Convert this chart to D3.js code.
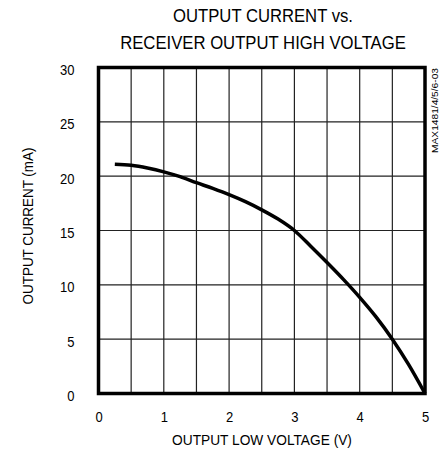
<!DOCTYPE html>
<html>
<head>
<meta charset="utf-8">
<script src="https://cdn.jsdelivr.net/npm/d3@7"></script>
<style>
  body { margin: 0; background: #fff; }
  text { font-family: "Liberation Sans", Arial, sans-serif; fill: #000; }
</style>
</head>
<body>
<div id="chart"></div>
<script>
// Our canvas
const width = 441,
  height = 455,
  plotLeft = 98.5,
  plotRight = 425,
  plotTop = 67.5,
  plotBottom = 393.5,
  narrow = 0.84

// Curve values
const voltage = [0.25, 0.5, 0.75, 1.0, 1.25, 1.5, 1.75, 2.0, 2.25, 2.5, 2.75, 3.0, 3.25, 3.5, 3.75, 4.0, 4.25, 4.5, 4.75, 5.0]
const current = [21.1, 21.0, 20.75, 20.4, 19.95, 19.4, 18.87, 18.3, 17.65, 16.9, 16.05, 15.0, 13.55, 12.05, 10.5, 8.85, 7.05, 5.0, 2.65, 0.0]

// Ticks and grid
const xTicks = [0, 1, 2, 3, 4, 5]
const yTicks = [0, 5, 10, 15, 20, 25, 30]
const xGrid = [0.5, 1, 1.5, 2, 2.5, 3, 3.5, 4, 4.5]
const yGrid = [5, 10, 15, 20, 25]

const titleLines = ['OUTPUT CURRENT vs.', 'RECEIVER OUTPUT HIGH VOLTAGE']
const xTitle = 'OUTPUT LOW VOLTAGE (V)'
const yTitle = 'OUTPUT CURRENT (mA)'
const partNo = 'MAX1481/4/5/6-03'

let svg = d3.select('#chart')
  .append('svg')
  .attr('width', width)
  .attr('height', height)

const xScale = d3.scaleLinear()
  .domain([0, 5])
  .range([plotLeft, plotRight])

const yScale = d3.scaleLinear()
  .domain([0, 30])
  .range([plotBottom, plotTop])

// grid lines
svg.selectAll('.vgrid')
  .data(xGrid)
  .enter()
  .append('line')
  .attr('x1', d => xScale(d))
  .attr('x2', d => xScale(d))
  .attr('y1', plotTop)
  .attr('y2', plotBottom)
  .attr('stroke', '#222')
  .attr('stroke-width', 1.2)

svg.selectAll('.hgrid')
  .data(yGrid)
  .enter()
  .append('line')
  .attr('x1', plotLeft)
  .attr('x2', plotRight)
  .attr('y1', d => yScale(d))
  .attr('y2', d => yScale(d))
  .attr('stroke', '#222')
  .attr('stroke-width', 1.2)

// the curve
const points = voltage.map((v, i) => [v, current[i]])

const line = d3.line()
  .x(d => xScale(d[0]))
  .y(d => yScale(d[1]))
  .curve(d3.curveMonotoneX)

svg.append('path')
  .datum(points)
  .attr('d', line)
  .attr('fill', 'none')
  .attr('stroke', '#000')
  .attr('stroke-width', 3.5)

// frame
svg.append('rect')
  .attr('x', plotLeft)
  .attr('y', plotTop)
  .attr('width', plotRight - plotLeft)
  .attr('height', plotBottom - plotTop)
  .attr('fill', 'none')
  .attr('stroke', '#000')
  .attr('stroke-width', 3.5)

// axes, labels only (squeezed to look like a narrow face)
const xAxis = svg.append('g')
  .attr('transform', `translate(0,${plotBottom + 14})`)
  .call(d3.axisBottom(xScale).tickValues(xTicks).tickSize(0).tickFormat(d3.format('d')))
xAxis.select('.domain').remove()
xAxis.selectAll('text')
  .attr('font-size', 15.5)
  .attr('font-family', null)
  .attr('transform', `scale(${narrow},1)`)

const yAxis = svg.append('g')
  .attr('transform', `translate(${plotLeft - 24},0)`)
  .call(d3.axisLeft(yScale).tickValues(yTicks).tickSize(0).tickFormat(d3.format('d')))
yAxis.select('.domain').remove()
yAxis.selectAll('text')
  .attr('x', 0)
  .attr('font-size', 15.5)
  .attr('font-family', null)
  .attr('dy', '0.45em')
  .attr('transform', `scale(${narrow},1)`)

// squeeze a text so it spans the wanted width
let squeeze = (sel, x, y, rot, w) => {
  let natural = sel.node().getComputedTextLength()
  sel.attr('transform', `translate(${x},${y}) rotate(${rot}) scale(${w / natural},1)`)
}

// titles
const titleWidths = [180, 286]

titleLines.forEach((t, i) => {
  let txt = svg.append('text')
    .attr('text-anchor', 'middle')
    .attr('font-size', 19)
    .text(t)
  squeeze(txt, 263, 22 + i * 27, 0, titleWidths[i])
})

let xt = svg.append('text')
  .attr('text-anchor', 'middle')
  .attr('font-size', 15.5)
  .text(xTitle)
squeeze(xt, 262, 445, 0, 180)

let yt = svg.append('text')
  .attr('text-anchor', 'middle')
  .attr('font-size', 15)
  .text(yTitle)
squeeze(yt, 33, 226, -90, 157)

let pn = svg.append('text')
  .attr('text-anchor', 'end')
  .attr('font-size', 9.5)
  .text(partNo)
squeeze(pn, 438, 68, -90, 85)
</script>
</body>
</html>
